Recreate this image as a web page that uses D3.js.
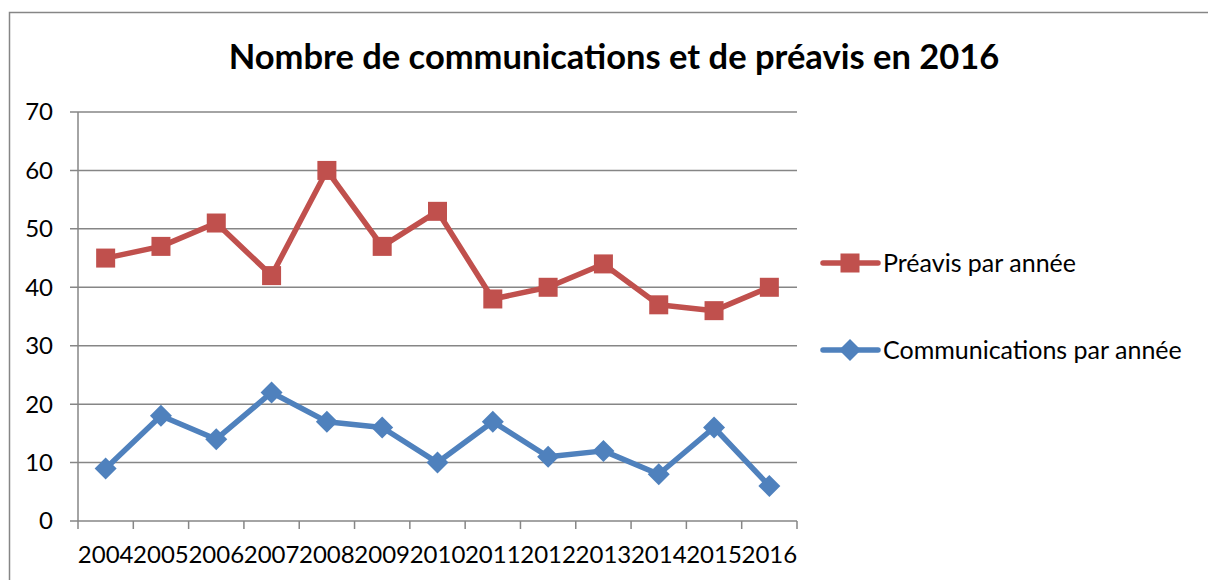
<!DOCTYPE html>
<html>
<head>
<meta charset="utf-8">
<script src="https://d3js.org/d3.v7.min.js"></script>
<style>
  body { margin: 0; background: #fff; }
  text { font-family: Lato, "Open Sans", sans-serif; fill: #000; }
</style>
</head>
<body>
<div id="chart"></div>
<script>
// chart data
const years = ['2004', '2005', '2006', '2007', '2008', '2009', '2010', '2011', '2012', '2013', '2014', '2015', '2016'];
const preavis = [45, 47, 51, 42, 60, 47, 53, 38, 40, 44, 37, 36, 40];
const communications = [9, 18, 14, 22, 17, 16, 10, 17, 11, 12, 8, 16, 6];
const yTicks = [0, 10, 20, 30, 40, 50, 60, 70];
const seriesNames = ['Préavis par année', 'Communications par année'];

const W = 1208, H = 580;
const plot = { left: 78, right: 797, top: 112, bottom: 521 };
const red = '#C0504D', blue = '#4F81BD', gridColor = '#868686';

const svg = d3.select('#chart').append('svg')
  .attr('width', W).attr('height', H);

// outer chart border (runs off the right and bottom)
svg.append('rect')
  .attr('x', 9.5).attr('y', 12.5)
  .attr('width', W + 20).attr('height', H + 20)
  .attr('fill', 'none').attr('stroke', gridColor).attr('stroke-width', 1.5);

// title
svg.append('text')
  .attr('x', 614).attr('y', 69)
  .attr('text-anchor', 'middle')
  .style('font-size', '34.5px').style('font-weight', 'bold')
  .text('Nombre de communications et de préavis en 2016');

const x = d3.scaleBand().domain(years).range([plot.left, plot.right]);
const y = d3.scaleLinear().domain([0, 70]).range([plot.bottom, plot.top]);

// horizontal grid lines
svg.append('g').selectAll('line').data(yTicks).enter().append('line')
  .attr('x1', plot.left - 8).attr('x2', plot.right)
  .attr('y1', d => y(d)).attr('y2', d => y(d))
  .attr('stroke', gridColor).attr('stroke-width', 1.5);

// y axis
svg.append('line')
  .attr('x1', plot.left).attr('x2', plot.left)
  .attr('y1', plot.top).attr('y2', plot.bottom)
  .attr('stroke', gridColor).attr('stroke-width', 1.5);

svg.append('g').selectAll('text').data(yTicks).enter().append('text')
  .attr('x', 53).attr('y', d => y(d))
  .attr('dy', '0.35em')
  .attr('text-anchor', 'end')
  .style('font-size', '24px')
  .text(d => d);

// x axis tick marks
const xEdges = years.map(d => x(d)).concat([plot.right]);
svg.append('g').selectAll('line').data(xEdges).enter().append('line')
  .attr('x1', d => d).attr('x2', d => d)
  .attr('y1', plot.bottom).attr('y2', plot.bottom + 8)
  .attr('stroke', gridColor).attr('stroke-width', 1.5);

svg.append('g').selectAll('text').data(years).enter().append('text')
  .attr('x', d => x(d) + x.bandwidth() / 2)
  .attr('y', 563)
  .attr('text-anchor', 'middle')
  .style('font-size', '24px')
  .text(d => d);

const line = d3.line()
  .x((d, i) => x(years[i]) + x.bandwidth() / 2)
  .y(d => y(d));

// Préavis series
svg.append('path').datum(preavis)
  .attr('d', line).attr('fill', 'none')
  .attr('stroke', red).attr('stroke-width', 5.5).attr('stroke-linejoin', 'round');

svg.append('g').selectAll('rect').data(preavis).enter().append('rect')
  .attr('x', (d, i) => x(years[i]) + x.bandwidth() / 2 - 9.5)
  .attr('y', d => y(d) - 9.5)
  .attr('width', 19).attr('height', 19)
  .attr('fill', red);

// Communications series
svg.append('path').datum(communications)
  .attr('d', line).attr('fill', 'none')
  .attr('stroke', blue).attr('stroke-width', 5.5).attr('stroke-linejoin', 'round');

const diamond = 'M0,-11L11,0L0,11L-11,0Z';
svg.append('g').selectAll('path').data(communications).enter().append('path')
  .attr('d', diamond)
  .attr('transform', (d, i) => `translate(${x(years[i]) + x.bandwidth() / 2},${y(d)})`)
  .attr('fill', blue);

// legend
const legend = svg.append('g');
const legendY = [263, 350];
const legendColors = [red, blue];

seriesNames.forEach((name, i) => {
  const g = legend.append('g').attr('transform', `translate(823,${legendY[i]})`);
  g.append('line')
    .attr('x1', 0).attr('x2', 55).attr('y1', 0).attr('y2', 0)
    .attr('stroke', legendColors[i]).attr('stroke-width', 5.5).attr('stroke-linecap', 'round');
  if (i === 0) {
    g.append('rect').attr('x', 17.5).attr('y', -9.5).attr('width', 19).attr('height', 19).attr('fill', red);
  } else {
    g.append('path').attr('d', diamond).attr('transform', 'translate(27,0)').attr('fill', blue);
  }
  g.append('text')
    .attr('x', 60).attr('y', 0).attr('dy', '0.35em')
    .style('font-size', '25px')
    .text(name);
});
</script>
</body>
</html>
